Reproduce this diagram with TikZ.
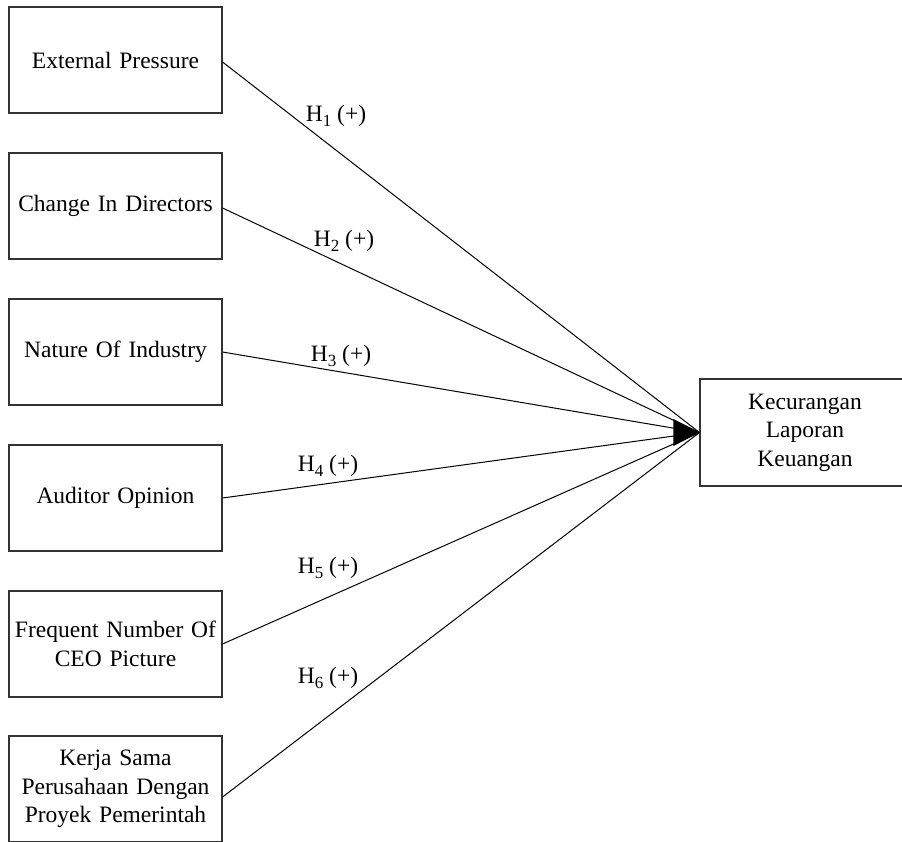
\documentclass[tikz,border=0pt]{standalone}
\usepackage{fontspec}
\setmainfont{Liberation Serif}
\newcommand{\hsub}[1]{\raisebox{-5pt}{\fontsize{17}{17}\selectfont #1}}
\begin{document}
\begin{tikzpicture}[x=1pt,y=-1pt,
  box/.style={draw=black!80,line width=1.1pt,minimum width=213pt,minimum height=106pt,
    text width=205pt,align=center,inner sep=0pt,
    font=\fontsize{23.5}{28.5}\selectfont},
  conn/.style={draw=black,line width=1pt},
  hlab/.style={font=\fontsize{23.5}{28.5}\selectfont,inner sep=0pt}]
\useasboundingbox (0,0) rectangle (902,841);
\clip (0,0) rectangle (902,841);
\node[box] (b1) at (115.5,60) {External Pressure};
\node[box] (b2) at (115.5,206) {Change In Directors};
\node[box] (b3) at (115.5,352) {Nature Of Industry};
\node[box] (b4) at (115.5,498) {Auditor Opinion};
\node[box] (b5) at (115.5,644) {Frequent Number Of\\CEO Picture};
\node[box] (b6) at (115.5,789) {Kerja Sama\\Perusahaan Dengan\\Proyek Pemerintah};
\node[box,minimum width=210pt,minimum height=107pt,text width=200pt] (k) at (805,432.5) {Kecurangan\\Laporan\\Keuangan};
\draw[conn] ([yshift=-2pt]b1.east) -- (k.west);
\draw[conn] ([yshift=-2pt]b2.east) -- (k.west);
\draw[conn] (b3.east) -- (k.west);
\draw[conn] (b4.east) -- (k.west);
\draw[conn] (b5.east) -- (k.west);
\draw[conn] ([yshift=-8pt]b6.east) -- (k.west);
\fill[black] (k.west) -- ++(-26,-13.5) -- ++(0,27) -- cycle;
\node[hlab] (h1) at (336,116) {H\hsub{1} (+)};
\node[hlab] (h2) at (344,241) {H\hsub{2} (+)};
\node[hlab] (h3) at (341,356) {H\hsub{3} (+)};
\node[hlab] (h4) at (328,466) {H\hsub{4} (+)};
\node[hlab] (h5) at (328,568) {H\hsub{5} (+)};
\node[hlab] (h6) at (328,678) {H\hsub{6} (+)};
\end{tikzpicture}
\end{document}
